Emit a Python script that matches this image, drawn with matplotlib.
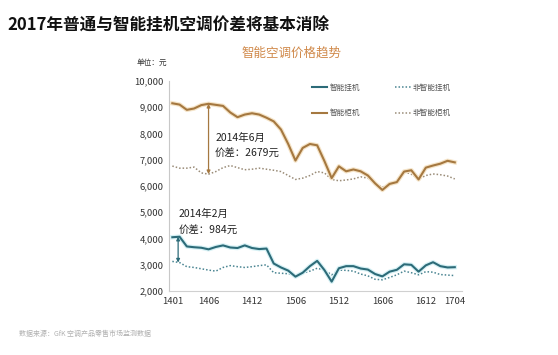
import matplotlib
matplotlib.use("Agg")
import matplotlib.pyplot as plt
import matplotlib.patheffects as pe
from matplotlib.lines import Line2D
from matplotlib.ticker import FuncFormatter

plt.rcParams['font.family'] = ['Noto Sans CJK SC', 'DejaVu Sans']

months = ["1401", "1402", "1403", "1404", "1405", "1406", "1407", "1408", "1409", "1410",
          "1411", "1412", "1501", "1502", "1503", "1504", "1505", "1506", "1507", "1508",
          "1509", "1510", "1511", "1512", "1601", "1602", "1603", "1604", "1605", "1606",
          "1607", "1608", "1609", "1610", "1611", "1612", "1701", "1702", "1703", "1704"]
tick_labels = ["1401", "1406", "1412", "1506", "1512", "1606", "1612", "1704"]

smart_cabinet = [9150, 9100, 8900, 8950, 9080, 9130, 9090, 9050, 8800, 8620,
                 8720, 8770, 8720, 8600, 8460, 8150, 7600, 6970, 7450, 7600,
                 7550, 6950, 6300, 6750, 6560, 6630, 6560, 6400, 6100, 5850,
                 6080, 6150, 6550, 6600, 6250, 6700, 6780, 6850, 6960, 6900]
plain_cabinet = [6760, 6680, 6680, 6720, 6500, 6451, 6550, 6700, 6780, 6700,
                 6620, 6640, 6680, 6640, 6600, 6550, 6400, 6250, 6300, 6400,
                 6550, 6500, 6250, 6200, 6230, 6270, 6350, 6300, 6100, 5960,
                 6050, 6150, 6550, 6450, 6270, 6400, 6460, 6430, 6380, 6270]
smart_wall = [4050, 4070, 3700, 3670, 3650, 3590, 3680, 3740, 3660, 3640,
              3740, 3640, 3600, 3620, 3050, 2900, 2780, 2550, 2700, 2950,
              3150, 2800, 2360, 2870, 2950, 2950, 2860, 2820, 2650, 2560,
              2740, 2810, 3020, 3000, 2740, 2980, 3100, 2950, 2900, 2910]
plain_wall = [3130, 3086, 2930, 2900, 2850, 2800, 2760, 2900, 2970, 2930,
              2900, 2930, 2970, 3000, 2700, 2680, 2660, 2590, 2680, 2760,
              2870, 2800, 2620, 2800, 2790, 2760, 2650, 2580, 2450, 2430,
              2520, 2620, 2760, 2700, 2620, 2740, 2720, 2630, 2610, 2590]

series_names = ["智能挂机", "智能柜机", "非智能挂机", "非智能柜机"]

TEAL = "#2c6b78"
TEAL_GLOW = "#d6f1f5"
BROWN = "#a57840"
BROWN_GLOW = "#f5e4c8"
TEAL_DOT = "#4a8592"
BROWN_DOT = "#9a8c78"
DOTS = (0, (1, 1.3))

fig = plt.figure(figsize=(5.58, 3.55), dpi=100)
ax = fig.add_axes([0.303, 0.180, 0.525, 0.592])
x = list(range(len(months)))

ax.plot(x, smart_wall, color=TEAL, lw=1.5, zorder=4, solid_joinstyle="round",
        path_effects=[pe.Stroke(linewidth=3.2, foreground=TEAL_GLOW), pe.Normal()])
ax.plot(x, smart_cabinet, color=BROWN, lw=1.5, zorder=4, solid_joinstyle="round",
        path_effects=[pe.Stroke(linewidth=3.2, foreground=BROWN_GLOW), pe.Normal()])
ax.plot(x, plain_wall, color=TEAL_DOT, lw=1.1, ls=DOTS, zorder=3)
ax.plot(x, plain_cabinet, color=BROWN_DOT, lw=1.1, ls=DOTS, zorder=3)

ax.set_xlim(-0.45, 40)
ax.set_ylim(2000, 10000)
ax.set_yticks([2000, 3000, 4000, 5000, 6000, 7000, 8000, 9000, 10000])
ax.yaxis.set_major_formatter(FuncFormatter(lambda v, p: f"{int(v):,}"))
ax.set_xticks([months.index(t) for t in tick_labels])
ax.set_xticklabels(tick_labels)
ax.tick_params(axis='both', length=0, labelsize=6.8, colors="#333333", pad=4)
for s in ["top", "right"]:
    ax.spines[s].set_visible(False)
ax.spines["left"].set_color("#c8c8c8")
ax.spines["bottom"].set_color("#d0d0d0")
ax.spines["left"].set_linewidth(0.8)
ax.spines["bottom"].set_linewidth(0.8)

# Annotations
i6 = months.index("1406")
ax.annotate("", xy=(i6, plain_cabinet[i6]), xytext=(i6, smart_cabinet[i6]),
            arrowprops=dict(arrowstyle="<|-|>", color=BROWN, lw=0.9, mutation_scale=5,
                            shrinkA=0, shrinkB=0), zorder=5)
ax.text(i6 + 0.9, 7850, "2014年6月", fontsize=7.5, color="#222222", va="center")
ax.text(i6 + 0.9, 7250, "价差：2679元", fontsize=7.5, color="#222222", va="center")

i2 = months.index("1402")
ax.annotate("", xy=(i2 - 0.2, plain_wall[i2]), xytext=(i2 - 0.2, smart_wall[i2]),
            arrowprops=dict(arrowstyle="<|-|>", color=TEAL, lw=0.9, mutation_scale=5,
                            shrinkA=0, shrinkB=0), zorder=5)
ax.text(0.9, 4930, "2014年2月", fontsize=7.5, color="#222222", va="center")
ax.text(0.9, 4350, "价差：984元", fontsize=7.5, color="#222222", va="center")

handles = [Line2D([], [], color=TEAL, lw=1.5),
           Line2D([], [], color=BROWN, lw=1.5),
           Line2D([], [], color=TEAL_DOT, lw=1.1, ls=DOTS),
           Line2D([], [], color=BROWN_DOT, lw=1.1, ls=DOTS)]
leg = ax.legend(handles=handles, labels=series_names, ncol=2, frameon=False, fontsize=5.5,
                loc="upper left", bbox_to_anchor=(0.465, 1.02), handlelength=2.0,
                columnspacing=4.6, labelspacing=2.3, handletextpad=0.3)
for t in leg.get_texts():
    t.set_color("#555555")

fig.text(0.014, 0.928, "2017年普通与智能挂机空调价差将基本消除", fontsize=12, fontweight="bold",
         color="#111111", va="center", ha="left")
fig.text(0.523, 0.851, "智能空调价格趋势", fontsize=9, color="#d0894a", va="center", ha="center")
fig.text(0.244, 0.822, "单位：元", fontsize=5.5, color="#333333", va="center", ha="left")
fig.text(0.034, 0.059, "数据来源：GfK 空调产品零售市场监测数据", fontsize=5, color="#b0b0b0",
         va="center", ha="left")

fig.savefig("out.png", dpi=100)
